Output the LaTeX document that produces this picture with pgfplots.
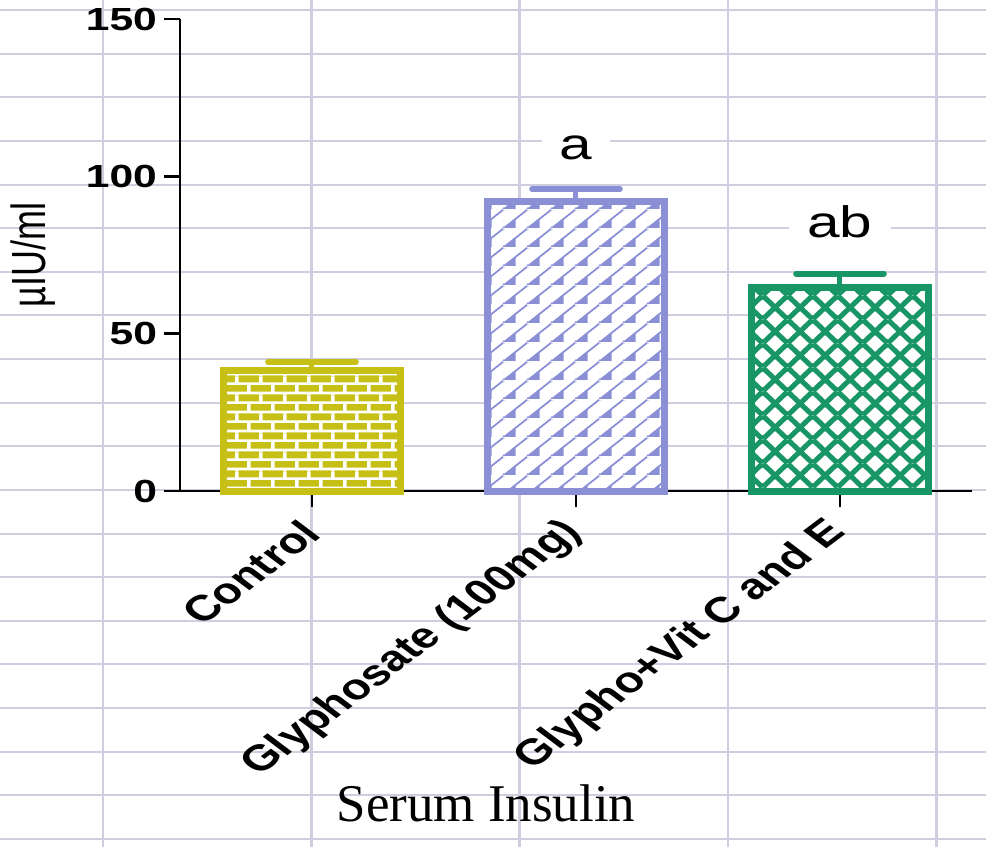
\documentclass[border=0pt]{standalone}
\usepackage{pgfplots}
\pgfplotsset{compat=1.18}
\usepackage{graphicx}
\usepackage{fontspec}
\usetikzlibrary{patterns}
\setmainfont{Liberation Sans}
\newfontfamily\widesans{Liberation Sans}[FakeStretch=1.33]
\newfontfamily\titlefont{Liberation Serif}

\definecolor{olivebar}{RGB}{198,192,22}
\definecolor{bluebar}{RGB}{138,143,214}
\definecolor{greenbar}{RGB}{24,150,102}
\definecolor{gridgray}{RGB}{206,206,222}

% brick wall, white mortar over the fill
\pgfdeclarepatternformonly{brickwall}{\pgfpointorigin}{\pgfpoint{12.2pt}{9.4pt}}{\pgfpoint{12.2pt}{9.4pt}}{%
  \pgfsetlinewidth{1.3pt}%
  \pgfpathmoveto{\pgfpoint{0pt}{1pt}}\pgfpathlineto{\pgfpoint{12.2pt}{1pt}}%
  \pgfpathmoveto{\pgfpoint{0pt}{5.7pt}}\pgfpathlineto{\pgfpoint{12.2pt}{5.7pt}}%
  \pgfusepath{stroke}%
  \pgfsetlinewidth{1.7pt}%
  \pgfpathmoveto{\pgfpoint{3pt}{1pt}}\pgfpathlineto{\pgfpoint{3pt}{5.7pt}}%
  \pgfpathmoveto{\pgfpoint{9.1pt}{5.7pt}}\pgfpathlineto{\pgfpoint{9.1pt}{9.4pt}}%
  \pgfpathmoveto{\pgfpoint{9.1pt}{0pt}}\pgfpathlineto{\pgfpoint{9.1pt}{1pt}}%
  \pgfusepath{stroke}%
}
% diagonal lines with small triangles
\pgfdeclarepatternformonly{trianglelines}{\pgfpointorigin}{\pgfpoint{12pt}{9.3pt}}{\pgfpoint{12pt}{9.3pt}}{%
  \pgfsetlinewidth{0.9pt}%
  \pgfpathmoveto{\pgfpoint{-12pt}{0pt}}\pgfpathlineto{\pgfpoint{0pt}{9.3pt}}%
  \pgfpathmoveto{\pgfpoint{0pt}{0pt}}\pgfpathlineto{\pgfpoint{12pt}{9.3pt}}%
  \pgfpathmoveto{\pgfpoint{12pt}{0pt}}\pgfpathlineto{\pgfpoint{24pt}{9.3pt}}%
  \pgfusepath{stroke}%
  \pgfpathmoveto{\pgfpoint{0.3pt}{0pt}}\pgfpathlineto{\pgfpoint{6pt}{0pt}}%
  \pgfpathlineto{\pgfpoint{6pt}{4.65pt}}\pgfpathclose
  \pgfusepath{fill}%
}
% diagonal crosshatch
\pgfdeclarepatternformonly{diamondhatch}{\pgfpointorigin}{\pgfpoint{12.3pt}{12pt}}{\pgfpoint{12.3pt}{12pt}}{%
  \pgfsetlinewidth{2.6pt}%
  \pgfpathmoveto{\pgfpoint{-12.3pt}{0pt}}\pgfpathlineto{\pgfpoint{0pt}{12pt}}%
  \pgfpathmoveto{\pgfpoint{0pt}{0pt}}\pgfpathlineto{\pgfpoint{12.3pt}{12pt}}%
  \pgfpathmoveto{\pgfpoint{12.3pt}{0pt}}\pgfpathlineto{\pgfpoint{24.6pt}{12pt}}%
  \pgfpathmoveto{\pgfpoint{-12.3pt}{12pt}}\pgfpathlineto{\pgfpoint{0pt}{0pt}}%
  \pgfpathmoveto{\pgfpoint{0pt}{12pt}}\pgfpathlineto{\pgfpoint{12.3pt}{0pt}}%
  \pgfpathmoveto{\pgfpoint{12.3pt}{12pt}}\pgfpathlineto{\pgfpoint{24.6pt}{0pt}}%
  \pgfusepath{stroke}%
}

\begin{document}
\begin{tikzpicture}
\useasboundingbox (0,0) rectangle (493pt,423.5pt);
\fill[white] (0,0) rectangle (493pt,423.5pt);
% spreadsheet grid behind the chart
\begin{scope}[x=0.5pt,y=0.5pt]
\foreach \k in {0,...,19}
  \draw[gridgray, line width=1pt] (0,{837-43.63*\k}) -- (986,{837-43.63*\k});
\foreach \k in {0,...,4}
  \draw[gridgray, line width=1.4pt] ({103+208.3*\k},0) -- ({103+208.3*\k},847);
\end{scope}

\begin{axis}[
  at={(90pt,178pt)}, anchor=south west,
  scale only axis, width=396pt, height=236pt,
  xmin=-0.5, xmax=2.5, ymin=0, ymax=150,
  axis x line*=bottom, axis y line*=left,
  axis line style={-, line width=1.3pt, black},
  tick align=outside, major tick length=8pt,
  tick style={line width=1.3pt, black},
  xtick={0,1,2},
  xticklabels={Control,Glyphosate (100mg),Glypho+Vit C and E},
  xticklabel style={font=\fontsize{18}{18}\selectfont\bfseries,
    xshift=2.5pt, yshift=-7.5pt, xscale=1.33, rotate=45, anchor=east},
  ytick={0,50,100,150},
  yticklabels={0,50,100,150},
  yticklabel style={font=\widesans\fontsize{16}{16}\selectfont\bfseries},
  ylabel={\scalebox{1}[1.33]{µIU/ml}},
  every axis y label/.style={at={(axis description cs:-0.185,0.5)},
    rotate=90, anchor=center, font=\fontsize{18}{18}\selectfont},
  clip=false,
]
\addplot[ybar, bar width=0.67, bar shift=0pt,
  preaction={fill=olivebar},
  preaction={pattern=brickwall, pattern color=white},
  draw=olivebar, line width=3.5pt,
  error bars/.cd, y dir=plus, y explicit,
  error bar style={line width=2.5pt, olivebar},
  error mark options={rotate=90, mark size=22pt, line width=2.8pt, line cap=round, olivebar}]
  coordinates {(0,38.3) +- (0,2.7)};
\addplot[ybar, bar width=0.67, bar shift=0pt,
  preaction={fill=white},
  preaction={pattern=trianglelines, pattern color=bluebar},
  draw=bluebar, line width=3.5pt,
  error bars/.cd, y dir=plus, y explicit,
  error bar style={line width=2.5pt, bluebar},
  error mark options={rotate=90, mark size=22pt, line width=2.8pt, line cap=round, bluebar}]
  coordinates {(1,92.0) +- (0,4.0)};
\addplot[ybar, bar width=0.67, bar shift=0pt,
  preaction={fill=white},
  preaction={pattern=diamondhatch, pattern color=greenbar},
  draw=greenbar, line width=3.5pt,
  error bars/.cd, y dir=plus, y explicit,
  error bar style={line width=2.5pt, greenbar},
  error mark options={rotate=90, mark size=22pt, line width=2.8pt, line cap=round, greenbar}]
  coordinates {(2,64.7) +- (0,4.3)};
\node[anchor=base, fill=white, inner xsep=9pt, inner ysep=7pt,
  font=\widesans\fontsize{22}{22}\selectfont] at (axis cs:1,105.2) {a};
\node[anchor=base, fill=white, inner xsep=9pt, inner ysep=7pt,
  font=\widesans\fontsize{22}{22}\selectfont] at (axis cs:2,80.7) {ab};
\end{axis}

\node[anchor=base, font=\titlefont\fontsize{26.5}{26.5}\selectfont] at (243pt,13pt) {Serum Insulin};
\end{tikzpicture}
\end{document}
